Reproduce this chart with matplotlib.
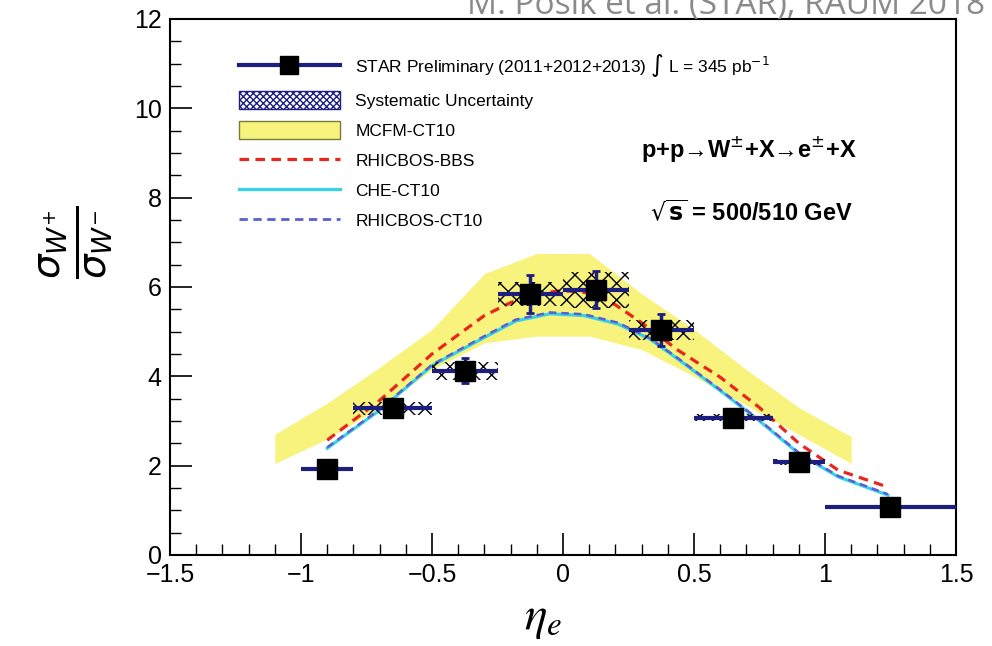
import matplotlib.pyplot as plt
import numpy as np
from matplotlib.lines import Line2D
from matplotlib.patches import Patch
from matplotlib.ticker import MultipleLocator, FuncFormatter

# STAR W+/W- cross-section ratio vs electron pseudorapidity
eta = [-0.9, -0.65, -0.375, -0.125, 0.125, 0.375, 0.65, 0.9, 1.25]
eta_err = [0.1, 0.15, 0.125, 0.125, 0.125, 0.125, 0.15, 0.1, 0.25]
ratio = [1.93, 3.28, 4.12, 5.84, 5.94, 5.04, 3.07, 2.09, 1.08]
stat_err = [0.08, 0.18, 0.28, 0.43, 0.42, 0.36, 0.1, 0.1, 0.08]
sys_err = [0.05, 0.15, 0.2, 0.27, 0.4, 0.23, 0.08, 0.07, 0.05]

# MCFM-CT10 band
band_x = [-1.1, -0.9, -0.7, -0.5, -0.3, -0.1, 0.1, 0.3, 0.5, 0.7, 0.9, 1.1]
band_hi = [2.7, 3.4, 4.2, 5.05, 6.3, 6.75, 6.75, 5.85, 5.05, 4.15, 3.3, 2.65]
band_lo = [2.05, 2.6, 3.3, 4.15, 4.75, 4.9, 4.9, 4.6, 4.0, 3.35, 2.7, 2.05]

# RHICBOS-BBS
bbs_x = [-0.9, -0.7, -0.5, -0.3, -0.2, -0.1, 0.0, 0.1, 0.2, 0.3, 0.44, 0.6, 0.75, 0.9, 1.05, 1.24]
bbs_y = [2.57, 3.46, 4.5, 5.36, 5.65, 5.85, 5.92, 5.87, 5.6, 5.2, 4.58, 3.98, 3.3, 2.5, 1.9, 1.52]

# CHE-CT10
che_x = [-0.9, -0.7, -0.5, -0.3, -0.18, -0.05, 0.08, 0.21, 0.33, 0.44, 0.6, 0.75, 0.9, 1.05, 1.24]
che_y = [2.39, 3.24, 4.24, 4.87, 5.24, 5.4, 5.36, 5.17, 4.84, 4.38, 3.68, 3.0, 2.27, 1.75, 1.34]

# RHICBOS-CT10
rct_x = [-0.9, -0.7, -0.5, -0.3, -0.18, -0.05, 0.08, 0.21, 0.33, 0.44, 0.6, 0.75, 0.9, 1.05, 1.24]
rct_y = [2.41, 3.26, 4.26, 4.9, 5.27, 5.43, 5.39, 5.2, 4.86, 4.4, 3.7, 3.02, 2.29, 1.77, 1.36]

navy = '#1c1f80'
yellow = '#f8f37c'

plt.rcParams['font.family'] = ['Liberation Sans', 'DejaVu Sans']
plt.rcParams['mathtext.fontset'] = 'dejavusans'

fig = plt.figure(figsize=(9.92, 6.46), dpi=100)
ax = fig.add_axes([0.1714, 0.1409, 0.7923, 0.8297])

ax.fill_between(band_x, band_lo, band_hi, color=yellow, lw=0, zorder=1)

ax.plot(bbs_x, bbs_y, color='#e8261c', lw=2.3, dashes=(3, 2), zorder=3)
ax.plot(che_x, che_y, color='#35d3e8', lw=2.3, zorder=3)
ax.plot(rct_x, rct_y, color='#5b5fcf', lw=1.8, dashes=(3, 2), zorder=3)

# systematic boxes
e = np.array(eta)
r = np.array(ratio)
s = np.array(sys_err)
w = np.array(eta_err)
ax.bar(e, 2 * s, bottom=r - s, width=2 * w, fill=False, hatch='xx',
       edgecolor='black', lw=0, zorder=4)

ax.errorbar(eta, ratio, xerr=eta_err, fmt='none', ecolor=navy, elinewidth=3, zorder=5)
ax.errorbar(eta, ratio, yerr=stat_err, fmt='none', ecolor=navy, elinewidth=2.5,
            capsize=3, capthick=2, zorder=5)
ax.plot(eta, ratio, 's', color='black', ms=14, zorder=6)

ax.set_xlim(-1.5, 1.5)
ax.set_ylim(0, 12)
ax.xaxis.set_major_locator(MultipleLocator(0.5))
ax.xaxis.set_minor_locator(MultipleLocator(0.1))
ax.yaxis.set_major_locator(MultipleLocator(2))
ax.yaxis.set_minor_locator(MultipleLocator(0.5))
ax.xaxis.set_major_formatter(FuncFormatter(lambda v, p: ('%g' % v).replace('-', '\u2212')))
ax.yaxis.set_major_formatter(FuncFormatter(lambda v, p: '%g' % v))
ax.tick_params(which='both', direction='in', top=False, right=False, labelsize=18, pad=6)
ax.tick_params(which='major', length=16, width=1.2)
ax.tick_params(which='minor', length=8, width=1)
for sp in ax.spines.values():
    sp.set_linewidth(1.5)

ax.set_xlabel(r'$\eta_e$', fontsize=34, math_fontfamily='stix')
ax.xaxis.set_label_coords(0.475, -0.078)
ax.set_ylabel(r'$\frac{\sigma_{W^{+}}}{\sigma_{W^{-}}}$', fontsize=40)
ax.yaxis.set_label_coords(-0.07, 0.584)

handles = [
    Line2D([], [], color=navy, lw=3, marker='s', ms=13, mfc='black', mec='black'),
    Patch(facecolor='white', edgecolor=navy, hatch='xxxxx', lw=1),
    Patch(facecolor=yellow, edgecolor='#7a7a3a', lw=1),
    Line2D([], [], color='#e8261c', lw=2.3, dashes=(3, 2)),
    Line2D([], [], color='#35d3e8', lw=2.3),
    Line2D([], [], color='#5b5fcf', lw=2, dashes=(3, 2)),
]
labels = [
    r'STAR Preliminary (2011+2012+2013) $\int$ L = 345 pb$^{-1}$',
    'Systematic Uncertainty',
    'MCFM-CT10',
    'RHICBOS-BBS',
    'CHE-CT10',
    'RHICBOS-CT10',
]
ax.legend(handles, labels, loc='upper left', bbox_to_anchor=(0.068, 0.967),
          frameon=False, fontsize=12.5, handlelength=5.8, handleheight=1.2,
          labelspacing=0.7, handletextpad=0.9)

ax.text(0.71, 9.1, 'p+p\u2192W$^{\\pm}$+X\u2192e$^{\\pm}$+X', fontsize=17,
        fontweight='bold', ha='center', va='center')
ax.text(0.72, 7.65, r'$\mathbf{\sqrt{s}}$ = 500/510 GeV', fontsize=17,
        fontweight='bold', ha='center', va='center')

fig.text(0.993, 0.978, 'M. Posik et al. (STAR), RAUM 2018', fontsize=24,
         color='#8a8a8a', ha='right', va='baseline', family=['Open Sans', 'DejaVu Sans'])

fig.savefig('out.png', dpi=100)
